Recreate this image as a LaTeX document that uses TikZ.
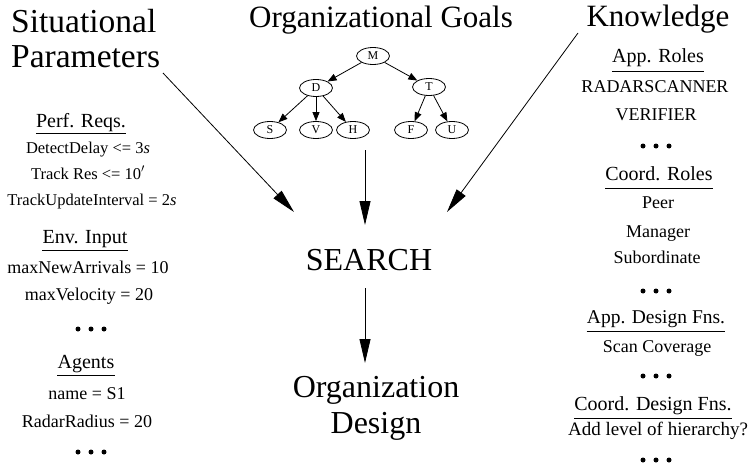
\documentclass[tikz,border=0pt]{standalone}
\usepackage{fontspec}
\setmainfont{Liberation Serif}
\usetikzlibrary{arrows.meta,shapes.geometric}
\begin{document}
\begin{tikzpicture}[x=1pt,y=-1pt,
  big/.style={font=\fontsize{32}{35}\selectfont, inner sep=0pt, anchor=base},
  hdr/.style={font=\fontsize{20}{22}\selectfont, inner sep=0pt, anchor=base},
  item/.style={font=\fontsize{18}{20}\selectfont, inner sep=0pt, anchor=base},
  sitem/.style={font=\fontsize{16.5}{19}\selectfont, inner sep=0pt, anchor=base},
  uline/.style={line width=0.8pt},
  tn/.style={ellipse, draw, line width=0.8pt, minimum width=33pt, minimum height=17pt, inner sep=0pt, font=\fontsize{12}{12}\selectfont},
  tarr/.style={-{Triangle[length=9pt,width=7pt]}, line width=0.8pt},
  barr/.style={-{Triangle[length=24pt,width=11pt]}, line width=0.8pt}
]
\useasboundingbox (0,0) rectangle (751,468);
\newcommand{\threedots}[2]{\fill (#1-13,#2) circle (2.5pt) (#1,#2) circle (2.5pt) (#1+13,#2) circle (2.5pt);}

% top titles
\node[big, anchor=base west, font=\fontsize{33.5}{35}\selectfont] (sit1) at (11,33) {Situational};
\node[big, anchor=base west, font=\fontsize{33.5}{35}\selectfont] (sit2) at (11,68) {Parameters};
\node[big, font=\fontsize{31}{35}\selectfont] (goals) at (381,28) {Organizational Goals};
\node[big, font=\fontsize{31}{35}\selectfont] (know) at (658,27) {Knowledge};

% tree
\node[tn] (M) at (373,56) {M};
\node[tn] (D) at (316,88) {D};
\node[tn] (T) at (429,87) {T};
\node[tn] (S) at (270,130) {S};
\node[tn] (V) at (316,130) {V};
\node[tn] (H) at (353,130) {H};
\node[tn] (F) at (411,130) {F};
\node[tn] (U) at (452,130) {U};
\draw[tarr] (M) -- (D);
\draw[tarr] (M) -- (T);
\draw[tarr] (D) -- (S);
\draw[tarr] (D) -- (V);
\draw[tarr] (D) -- (H);
\draw[tarr] (T) -- (F);
\draw[tarr] (T) -- (U);

% center
\node[big] (search) at (369,270) {SEARCH};
\node[big] (org1) at (376,397) {Organization};
\node[big] (org2) at (376,433) {Design};

\coordinate (treeb) at (365,150);
\coordinate (searchin) at (365,225);
\coordinate (searchout) at (365,288);
\coordinate (orgin) at (365,363);
\coordinate (ls) at (163,73);
\coordinate (lt) at (294,212);
\coordinate (rs) at (578,33);
\coordinate (rt) at (447,212);
\draw[barr] (treeb) -- (searchin);
\draw[barr] (searchout) -- (orgin);
\draw[barr] (ls) -- (lt);
\draw[barr] (rs) -- (rt);

% left column
\node[hdr] (perf) at (81,127) {Perf. Reqs.};
\draw[uline] ([yshift=-6pt]perf.base west) -- ([yshift=-6pt]perf.base east);
\node[sitem] (l1) at (88,153) {DetectDelay <= 3\textit{s}};
\node[sitem] (l2) at (88,179) {Track Res <= 10$'$};
\node[sitem] (l3) at (92,205) {TrackUpdateInterval = 2\textit{s}};
\node[hdr] (env) at (85,243) {Env. Input};
\draw[uline] ([yshift=-7pt]env.base west) -- ([yshift=-7pt]env.base east);
\node[item] (l4) at (88,273) {maxNewArrivals = 10};
\node[item] (l5) at (89,300) {maxVelocity = 20};
\threedots{91}{329}
\node[hdr] (agents) at (86,368) {Agents};
\draw[uline] ([yshift=-7pt]agents.base west) -- ([yshift=-7pt]agents.base east);
\node[item] (l6) at (87,399) {name = S1};
\node[item] (l7) at (87,427) {RadarRadius = 20};
\threedots{91}{452}

% right column
\node[hdr] (approles) at (658,63) {App. Roles};
\draw[uline] ([yshift=-8pt]approles.base west) -- ([yshift=-8pt]approles.base east);
\node[item] (r1) at (655,93) {RADARSCANNER};
\node[item] (r2) at (656,120) {VERIFIER};
\threedots{656}{146}
\node[hdr] (coordroles) at (659,180) {Coord. Roles};
\draw[uline] ([yshift=-8pt]coordroles.base west) -- ([yshift=-8pt]coordroles.base east);
\node[item] (r3) at (658,208) {Peer};
\node[item] (r4) at (658,237) {Manager};
\node[item] (r5) at (657,263) {Subordinate};
\threedots{656}{291}
\node[hdr, font=\fontsize{19.5}{22}\selectfont] (appdes) at (656,323) {App. Design Fns.};
\draw[uline] ([yshift=-8pt]appdes.base west) -- ([yshift=-8pt]appdes.base east);
\node[item] (r6) at (657,352) {Scan Coverage};
\threedots{656}{376}
\node[hdr] (coorddes) at (653,410) {Coord. Design Fns.};
\draw[uline] ([yshift=-8pt]coorddes.base west) -- ([yshift=-8pt]coorddes.base east);
\node[item, font=\fontsize{19}{21}\selectfont] (r7) at (658,435) {Add level of hierarchy?};
\threedots{656}{460}
\end{tikzpicture}
\end{document}
